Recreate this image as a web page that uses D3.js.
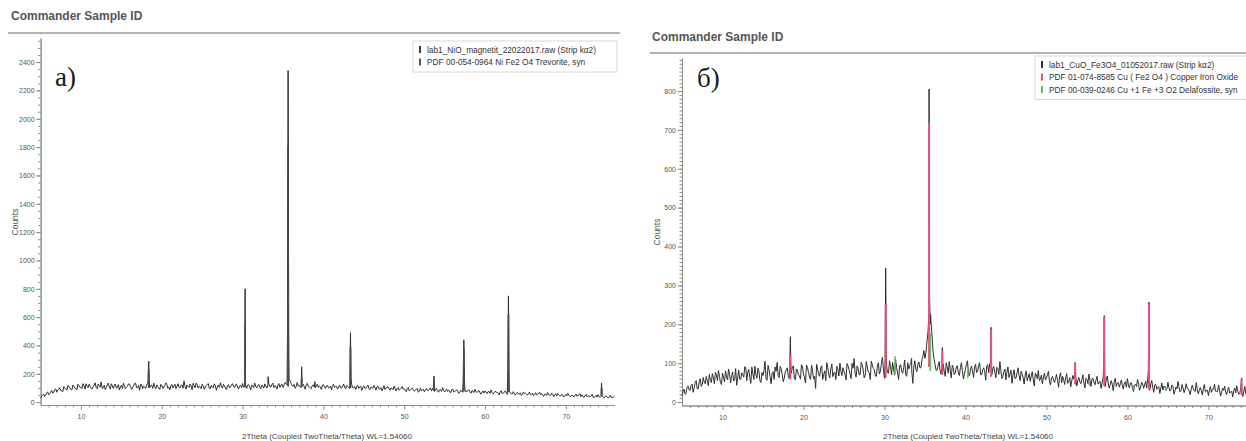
<!DOCTYPE html>
<html>
<head>
<meta charset="utf-8">
<script src="https://cdn.jsdelivr.net/npm/d3@7"></script>
<style>
body{margin:0;background:#fff}
svg{display:block}
text{font-family:"Liberation Sans",Arial,sans-serif}
</style>
</head>
<body>
<script>
// scan grid (2Theta start / step); second array holds the half-step points
var scanStart=5, scanStep=0.25, halfStart=5.125

// a) lab1_NiO_magnetit_22022017 - counts per grid step, 5..76 deg
var countsA=[
 30,48,41,66, 52,71,63,88, 70,92,81,75, 99,84,113,90, 121,97,88,117,
 104,131,92,112, 126,99,108,137, 94,118,143,101, 89,122,110,130, 97,128,104,86,
 119,133,95,112, 127,90,116,135, 101,84,124,112, 96,129,102,121, 134,93,111,89,
 120,107,136,98, 87,125,114,96, 130,101,121,150, 92,112,128,88, 118,135,99,109,
 126,91,117,132, 95,106,129,84, 121,137,98,115, 89,123,108,131, 102,127,93,119,
 132,110,97,124, 88,118,135,101, 126,94,113,129, 99,127,106,134, 117,92,131,121,
 104,139,122,165, 131,112,98,138, 119,104,126,91, 133,108,95,122, 101,127,115,89,
 124,97,118,103, 87,126,110,92, 121,99,128,94, 112,96,124,101, 90,118,106,83,
 115,96,121,88, 104,118,85,112, 93,81,117,101, 108,84,97,114, 79,103,91,110,
 96,74,104,87, 101,77,93,70, 98,86,73,96, 82,101,97,76, 95,70,88,102,
 72,91,84,66, 93,75,87,62, 84,70,92,77, 88,63,79,91, 68,82,57,78,
 80,61,74,86, 58,77,69,52, 81,64,79,54, 78,60,74,50, 70,56,47,72,
 63,49,71,55, 44,67,58,70, 62,41,55,68, 49,64,38,59, 61,45,56,37,
 54,62,40,50, 36,57,47,60, 52,34,55,43, 40,56,31,49, 53,35,46,30,
 44,28,49,33, 36]
var halfA=[
 40,57,49,72, 61,83,70,94, 86,102,79,110, 92,118,101,86, 111,95,127,104,
 97,116,130,101, 112,93,120,104, 128,106,97,119, 103,135,92,115, 121,99,124,108,
 96,117,106,129, 110,98,131,103, 118,126,95,108, 125,110,118,97, 109,122,100,126,
 97,118,124,106, 116,100,127,110, 105,119,98,112, 121,104,115,133, 100,122,114,96,
 113,107,125,98, 119,100,117,108, 104,115,126,99, 117,100,121,110, 123,107,115,101,
 105,119,121,108, 120,103,111,118, 106,121,99,114, 116,108,124,103, 110,122,104,127,
 120,132,140,150, 118,125,109,115, 106,117,110,123, 111,102,118,106, 113,104,108,120,
 108,116,101,112, 117,103,112,106, 101,114,107,119, 105,118,103,111, 108,97,112,102,
 100,111,95,106, 98,104,109,94, 102,96,89,105, 93,100,88,97, 95,85,99,91,
 84,96,80,92, 88,83,95,80, 79,91,85,82, 90,78,86,93, 81,87,76,84,
 83,75,79,88, 72,81,77,70, 78,88,74,81, 73,80,68,76, 77,66,72,64,
 70,75,62,68, 66,71,64,73, 60,69,63,70, 67,58,62,61, 59,66,53,60,
 57,60,52,63, 55,50,60,52, 51,57,47,53, 48,54,50,45, 52,46,49,43,
 45,49,41,47, 47,42,50,39, 40,46,38,44, 43,37,41,35, 39,42,36,40,
 35,38,33,37]
// peak point groups [2Theta, counts]
var peaksA=[
 [[18.3,150],[18.38,290],[18.45,140]],
 [[30.27,200],[30.31,800],[30.36,190]],
 [[33.15,180]],
 [[35.55,430],[35.63,2340],[35.71,520]],
 [[37.27,150],[37.31,250],[37.36,140]],
 [[38.95,145]],
 [[43.28,180],[43.35,490],[43.42,170]],
 [[53.68,185]],
 [[57.3,170],[57.38,440],[57.46,160]],
 [[62.82,220],[62.9,750],[62.97,200]],
 [[74.42,135]]]
// PDF 00-054-0964 sticks [2Theta, base, top]
var sticksA=[[18.38,100,230],[30.31,105,560],[35.63,110,1810],[37.31,105,170],[43.35,100,390],
 [53.68,80,150],[57.38,75,380],[62.9,70,620],[74.42,45,100]]
var legendA=["lab1_NiO_magnetit_22022017.raw (Strip kα2)","PDF 00-054-0964 Ni Fe2 O4 Trevorite, syn"]
var yTicksA=[0,200,400,600,800,1000,1200,1400,1600,1800,2000,2200,2400]

// б) lab1_CuO_Fe3O4_01052017
var countsB=[
 16,33,22,41, 30,46,37,55, 34,60,45,51, 66,42,58,73, 47,69,81,50,
 74,52,64,85, 49,77,60,43, 82,58,70,91, 55,84,48,73, 92,61,79,50,
 68,105,56,83, 47,78,90,102, 63,85,52,77, 88,60,74,93, 57,82,67,96,
 72,49,88,64, 95,59,35,84, 66,93,71,55, 89,62,98,75, 58,84,100,68,
 80,57,93,73, 99,112,64,86, 70,96,62,104, 77,58,95,83, 66,101,79,115,
 61,97,74,92, 102,69,88,58, 96,74,108,66, 85,99,48,106, 78,103,88,118,
 112,155,230,205, 130,96,82,104, 71,98,66,90, 104,62,87,75, 93,68,101,59,
 84,106,67,92, 63,97,79,101, 70,88,56,96, 99,70,91,62, 86,104,60,78,
 57,90,71,48, 83,62,88,55, 72,46,80,64, 53,78,41,70, 81,59,47,74,
 62,79,44,66, 50,71,38,75, 66,45,73,52, 39,68,74,41, 63,47,70,36,
 58,72,40,61, 44,66,51,35, 64,40,67,36, 55,29,61,48, 38,57,33,52,
 60,36,49,27, 46,58,30,51, 35,54,57,30, 55,25,45,38, 22,49,41,30,
 51,28,44,20, 39,53,26,45, 24,47,34,19, 43,29,50,21, 37,18,45,28,
 16,40,33,46, 27,44,15,35, 41,19,38,25, 13,36,42,20, 38,14,40,15,
 33,17,36,14, 30]
var halfB=[
 27,20,38,31, 43,25,50,34, 52,40,63,47, 55,71,50,62, 76,55,66,45,
 63,80,57,71, 68,54,86,62, 59,75,64,88, 77,62,90,58, 70,87,55,76,
 81,60,94,66, 73,58,79,68, 92,71,61,83, 66,79,90,60, 85,70,59,91,
 64,95,76,58, 79,66,97,70, 88,58,80,101, 70,85,65,77, 92,67,79,88,
 71,99,83,60, 87,74,93,70, 102,82,68,90, 75,105,86,67, 93,72,99,84,
 88,76,106,70, 85,110,74,93, 79,88,70,101, 94,77,90,84, 97,88,108,132,
 128,180,215,170, 110,82,93,80, 88,79,101,74, 81,95,70,90, 75,88,80,72,
 97,72,86,79, 90,76,94,70, 83,79,92,75, 80,86,77,89, 71,82,66,85,
 77,63,82,69, 60,75,68,79, 62,70,55,73, 67,58,74,60, 55,69,62,57,
 70,53,62,57, 61,55,66,49, 57,62,48,63, 54,59,63,55, 52,58,49,61,
 47,55,60,50, 57,46,53,49, 50,55,49,44, 46,52,40,50, 47,42,50,38,
 44,49,37,43, 40,45,38,47, 44,36,41,46, 38,44,33,40, 36,31,39,34,
 37,32,40,29, 34,38,30,36, 31,36,28,33, 35,27,32,30, 29,34,26,31,
 30,25,33,28, 27,31,24,30, 26,30,23,28, 29,24,27,22, 25,28,21,27,
 24,20,26,22]
var peaksB=[
 [[18.3,90],[18.38,168],[18.45,85]],
 [[30.08,110],[30.15,345],[30.22,140]],
 [[33.35,112]],
 [[35.51,805],[35.56,280],[35.65,200],[35.7,225]],
 [[37.08,85],[37.15,140],[37.2,80]],
 [[43.1,100],[43.17,192],[43.23,95]],
 [[53.55,102]],
 [[57.08,90],[57.14,222],[57.2,70]],
 [[62.58,80],[62.66,257],[62.72,60]],
 [[74.1,62]]]
// PDF 01-074-8585 Cu(Fe2O4) sticks
var sticksB1=[[18.38,58,122],[30.15,62,252],[35.51,90,718],[37.15,70,132],[43.17,65,188],
 [53.55,45,100],[57.14,40,218],[62.66,33,252],[74.1,18,60]]
// PDF 00-039-0246 delafossite sticks
var sticksB2=[[31.3,72,118],[35.66,80,177],[40.3,62,82],[55.3,42,57],[60.8,32,44],[64.7,28,40]]
var legendB=["lab1_CuO_Fe3O4_01052017.raw (Strip kα2)","PDF 01-074-8585 Cu ( Fe2 O4 ) Copper Iron Oxide","PDF 00-039-0246 Cu +1 Fe +3 O2 Delafossite, syn"]
var yTicksB=[0,100,200,300,400,500,600,700,800]

var xTicks=[10,20,30,40,50,60,70]

var svg=d3.select("body").append("svg").attr("width",1246).attr("height",441)

var drawPanel=function(p){
  var g=svg.append("g")
  var x=d3.scaleLinear().domain([5,76]).range([p.left,p.right])
  var y=d3.scaleLinear().domain(p.yDomain).range([p.bottom,p.top])

  g.append("text").text("Commander Sample ID")
   .attr("x",p.titleX).attr("y",p.titleY)
   .attr("font-size",12).attr("font-weight","bold").attr("fill","#555")
  g.append("line").attr("x1",p.ruleX1).attr("x2",p.ruleX2)
   .attr("y1",p.ruleY).attr("y2",p.ruleY)
   .attr("stroke","#9a9a9a").attr("stroke-width",1.5)

  // minor ticks
  var minorX=d3.range(6,76,1).filter(function(d){return d%10!=0})
  g.append("g").attr("transform","translate(0,"+p.bottom+")")
   .call(d3.axisBottom(x).tickValues(minorX).tickSize(2.5).tickFormat("").tickSizeOuter(0))
  g.append("g").attr("transform","translate("+p.left+",0)")
   .call(d3.axisLeft(y).tickValues(d3.range(p.minorStep,p.yDomain[1],p.minorStep)).tickSize(2.5).tickFormat("").tickSizeOuter(0))

  g.append("g").attr("transform","translate(0,"+p.bottom+")")
   .call(d3.axisBottom(x).tickValues(xTicks).tickSize(4.5).tickPadding(5).tickSizeOuter(0))
  g.append("g").attr("transform","translate("+p.left+",0)")
   .call(d3.axisLeft(y).tickValues(p.yTicks).tickFormat(d3.format("d")).tickSize(4.5).tickPadding(1.5).tickSizeOuter(0))
  g.selectAll(".domain,.tick line").attr("stroke","#8a8f8a")
  g.selectAll(".tick text").attr("font-size",7).attr("fill","#555")

  g.append("text").text("Counts")
   .attr("transform","translate("+p.countsX+","+p.countsY+") rotate(-90)")
   .attr("text-anchor","middle").attr("font-size",8.5).attr("fill","#555")
  g.append("text").text("2Theta (Coupled TwoTheta/Theta) WL=1.54060")
   .attr("x",p.xTitleX).attr("y",439)
   .attr("text-anchor","middle").attr("font-size",8).attr("fill","#444")

  // scan line: both grids, minus points inside a peak, plus the peak points
  var pts=p.counts.map(function(d,i){return [scanStart+i*scanStep,d]})
    .concat(p.half.map(function(d,i){return [halfStart+i*scanStep,d]}))
  pts=pts.filter(function(d){
    return !p.peaks.some(function(pk){return d[0]>pk[0][0]&&d[0]<pk[pk.length-1][0]})
  })
  p.peaks.forEach(function(pk){pts=pts.concat(pk)})
  pts.sort(function(a,b){return a[0]-b[0]})
  var line=d3.line().x(function(d){return x(d[0])}).y(function(d){return y(d[1])})
  g.append("path").datum(pts).attr("d",line)
   .attr("fill","none").attr("stroke","#2e2e2e").attr("stroke-width",p.lineW)

  p.sticks.forEach(function(s){
    g.append("g").selectAll("line")
     .data(s.data)
     .enter()
     .append("line")
     .attr("x1",function(d){return x(d[0])})
     .attr("x2",function(d){return x(d[0])})
     .attr("y1",function(d){return y(d[1])})
     .attr("y2",function(d){return y(d[2])})
     .attr("stroke",s.color).attr("stroke-width",s.width)
  })

  g.append("text").text(p.label)
   .attr("x",p.labelX).attr("y",p.labelY)
   .style("font-family","'Liberation Serif', 'Times New Roman', serif")
   .attr("font-size",27).attr("fill","#1a1a1a")

  // legend
  g.append("rect").attr("x",p.legX).attr("y",p.legY).attr("width",p.legW).attr("height",p.legend.length*12.5+6)
   .attr("fill","#fff").attr("stroke","#d0d0d0").attr("stroke-width",0.8)
  g.append("g").selectAll("rect")
   .data(p.legend)
   .enter()
   .append("rect")
   .attr("x",p.legX+6)
   .attr("y",function(d,i){return p.legY+5+i*12.5})
   .attr("width",2).attr("height",7)
   .attr("fill",function(d,i){return p.legColors[i]})
  g.append("g").selectAll("text")
   .data(p.legend)
   .enter()
   .append("text")
   .attr("x",p.legX+14)
   .attr("y",function(d,i){return p.legY+11.5+i*12.5})
   .attr("font-size",8.3).attr("fill","#333")
   .text(function(d){return d})
}

drawPanel({left:40.6,right:614.3,top:38,bottom:405,yDomain:[-20,2570],minorStep:50,yTicks:yTicksA,
  counts:countsA,half:halfA,peaks:peaksA,lineW:1,
  sticks:[{data:sticksA,color:"#4a4a4a",width:1.8}],
  titleX:11,titleY:20,ruleX1:8,ruleX2:620,ruleY:33,
  countsX:18,countsY:222,xTitleX:327,label:"a)",labelX:55,labelY:86,
  legend:legendA,legColors:["#3a3a3a","#555"],legX:413,legY:41,legW:204})

drawPanel({left:682,right:1257,top:58,bottom:405.5,yDomain:[-9,885],minorStep:10,yTicks:yTicksB,
  counts:countsB,half:halfB,peaks:peaksB,lineW:1,
  sticks:[{data:sticksB1,color:"#ec4f7c",width:2},{data:sticksB2,color:"#5cc35a",width:1.6}],
  titleX:652,titleY:41,ruleX1:650,ruleX2:1246,ruleY:53,
  countsX:660,countsY:232,xTitleX:968,label:"б)",labelX:697,labelY:87,
  legend:legendB,legColors:["#333","#ec4f7c","#5cc35a"],legX:1035,legY:56,legW:220})
</script>
</body>
</html>
